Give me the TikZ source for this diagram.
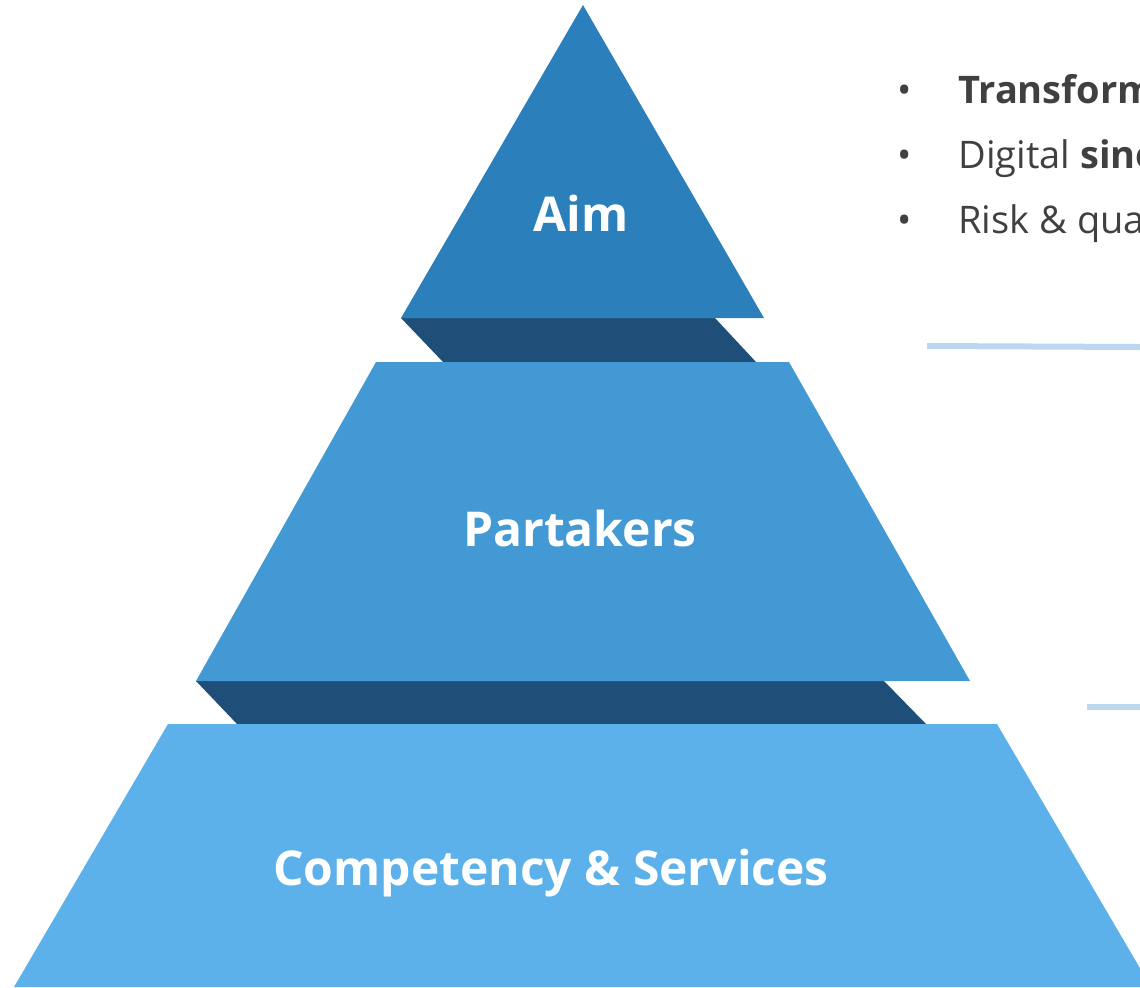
\documentclass[tikz,border=0pt]{standalone}
\usepackage{fontspec}
\setmainfont{Open Sans}
\usetikzlibrary{positioning}
\definecolor{aimblue}{HTML}{2B7FBA}
\definecolor{partblue}{HTML}{4399D3}
\definecolor{compblue}{HTML}{5CB1EA}
\definecolor{shadeblue}{HTML}{1F4E79}
\definecolor{ruleblue}{HTML}{BDD7EE}
\definecolor{textgrey}{HTML}{404040}
\tikzset{
    level/.style={white,font=\fontsize{24}{29}\selectfont\bfseries},
    point/.style={textgrey,anchor=base west,inner sep=0pt,font=\fontsize{19}{23}\selectfont},
    dot/.style={textgrey,anchor=base,inner sep=0pt,font=\fontsize{19}{23}\selectfont},
    rulebar/.style={ruleblue,line width=3pt}
}
\begin{document}
\begin{tikzpicture}[x=0.5pt,y=-0.5pt]

	    \useasboundingbox (0,0) rectangle (1140,987);
	    \clip (0,0) rectangle (1140,987);

	    % shadows between the levels
	    \fill[shadeblue] (401,318) -- (715,318) -- (756,362) -- (443,362) -- cycle;
	    \fill[shadeblue] (196,681) -- (884,681) -- (926,724) -- (237,724) -- cycle;

	    % the three levels
	    \fill[aimblue] (583,5) -- (764,318) -- (401,318) -- cycle;
	    \fill[partblue] (376,362) -- (789,362) -- (970,681) -- (196,681) -- cycle;
	    \fill[compblue] (168,724) -- (997,724) -- (1151,987) -- (14,987) -- cycle;

	    \node[level] (aim) at (581,213) {Aim};
	    \node[level] (partakers) at (580,528) {Partakers};
	    \node[level] (competency) at (551,873) {Competency \& Services};

	    % bullet list on the right
	    \node[point] (p1) at (958,103) {\bfseries Transform};
	    \node[point] (p2) at (958,168) {Digital \textbf{sine}};
	    \node[point] (p3) at (958,233) {Risk \& qua};
	    \node[dot] (d1) at (905,103) {•};
	    \node[dot] (d2) at (905,168) {•};
	    \node[dot] (d3) at (905,233) {•};

	    \coordinate (r1a) at (927,346);
	    \coordinate (r1b) at (1140,347);
	    \coordinate (r2a) at (1087,707);
	    \coordinate (r2b) at (1140,707);
	    \draw[rulebar] (r1a) -- (r1b);
	    \draw[rulebar] (r2a) -- (r2b);

	    \end{tikzpicture}
\end{document}
